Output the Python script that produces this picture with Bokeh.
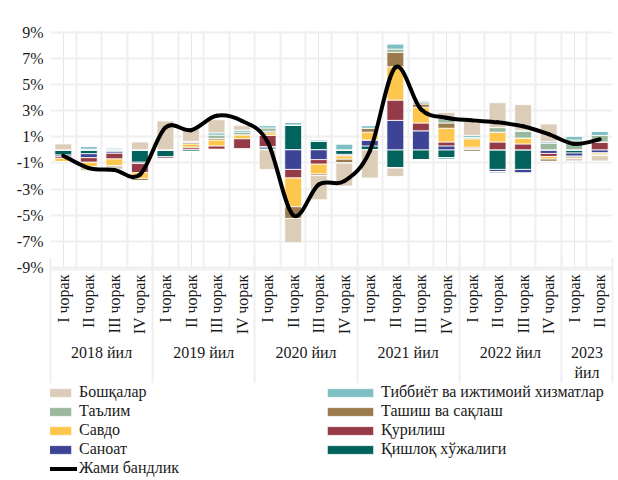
import math
import numpy as np
from bokeh.plotting import figure
from bokeh.layouts import column
from bokeh.models import (FixedTicker, LinearAxis, Legend, LegendItem, Range1d, Grid)
from bokeh.embed import file_html
from bokeh.resources import INLINE

# ---- data -------------------------------------------------------------
years = ["2018 йил", "2019 йил", "2020 йил", "2021 йил", "2022 йил", "2023\nйил"]
quarters_per_year = [4, 4, 4, 4, 4, 2]
quarter_names = ["I чорак", "II чорак", "III чорак", "IV чорак"]

y_ticks = [-9, -7, -5, -3, -1, 1, 3, 5, 7, 9]

# contributions, percentage points (bottom-up stacking order)
agri =      [-0.40, -0.30, -0.15, -0.95, -0.55, -0.15, 0.00, 0.00, 0.15, 1.90, 0.65, -0.35, 0.30, -1.40, -0.75, -0.60, 0.00, -1.50, -1.50, 0.00, -0.25, 0.00]
industry =  [-0.10, -0.30, -0.12, -0.10, 0.00, 0.05, 0.05, 0.10, 0.10, -1.50, -0.75, -0.12, 0.45, 2.25, 1.45, 0.30, 0.10, -0.20, -0.30, -0.28, -0.25, -0.25]
constr =    [-0.15, -0.35, -0.43, -0.70, -0.15, 0.15, 0.25, 0.75, 0.85, -0.65, -0.35, 0.00, 0.00, 1.55, 0.60, 0.30, 0.10, 0.60, 0.45, -0.23, 0.00, 0.60]
trade =     [-0.25, -0.35, -0.50, -0.45, 0.00, 0.25, 0.45, 0.30, 0.20, -2.20, -0.75, -0.25, 0.60, 2.55, 1.20, 1.05, 0.65, 0.75, 0.45, -0.20, 0.00, -0.10]
transport = [0.00, 0.00, 0.00, -0.15, 0.00, 0.10, 0.12, 0.00, 0.12, -0.90, -0.12, -0.30, 0.30, 1.10, 0.25, 0.40, -0.15, 0.00, 0.00, -0.18, -0.15, -0.10]
education = [0.00, 0.05, 0.05, 0.00, 0.00, 0.10, 0.25, 0.20, 0.25, 0.00, 0.00, 0.00, 0.00, 0.25, 0.15, 0.35, 0.10, 0.35, 0.50, 0.50, 0.75, 0.50]
health =    [0.00, 0.20, 0.10, 0.00, 0.00, 0.00, 0.18, 0.15, 0.18, 0.20, 0.12, 0.45, 0.20, 0.40, 0.10, -0.15, 0.15, -0.12, 0.10, 0.12, 0.30, 0.30]
others =    [0.45, -0.30, -0.30, 0.60, 2.20, 0.90, 1.00, 0.35, -1.50, -1.85, -1.85, -1.75, -2.15, -0.65, 0.00, 0.45, 1.10, 1.90, 1.95, 1.35, -0.20, -0.40]

total =     [-0.45, -1.40, -1.55, -1.90, 1.70, 1.50, 2.60, 2.20, 0.60, -5.00, -2.65, -2.40, -0.10, 6.30, 3.10, 2.45, 2.25, 2.10, 1.80, 1.20, 0.45, 0.80]

series_names = ["Қишлоқ хўжалиги", "Саноат", "Қурилиш", "Савдо", "Ташиш ва сақлаш",
                "Таълим", "Тиббиёт ва ижтимоий хизматлар", "Бошқалар"]
series_values = [agri, industry, constr, trade, transport, education, health, others]
series_colors = ["#02635C", "#3D4495", "#953B48", "#FDC74D", "#9B7B4B",
                 "#9AB89E", "#7FBFC4", "#DCCDB9"]
total_name = "Жами бандлик"

# legend layout: left column then right column (column-major)
legend_order = ["Бошқалар", "Таълим", "Савдо", "Саноат", total_name,
                "Тиббиёт ва ижтимоий хизматлар", "Ташиш ва сақлаш", "Қурилиш", "Қишлоқ хўжалиги"]

# ---- styling ----------------------------------------------------------
FONT = "Liberation Serif"
TXT = "#1a1a1a"
GRID = "#efefef"

n = len(total)
x = np.arange(n, dtype=float)


def draw_series(fig):
    """Stacked bars (positive/negative parts stacked separately) + smoothed total line."""
    rs = {}
    pos_base = np.zeros(n)
    neg_base = np.zeros(n)
    for name, vals, color in zip(series_names, series_values, series_colors):
        v = np.array(vals, dtype=float)
        pv = np.clip(v, 0, None)
        nv = np.clip(v, None, 0)
        r = fig.vbar(x=x, bottom=pos_base.copy(), top=pos_base + pv, width=0.66,
                     fill_color=color, line_color="white", line_width=0.8)
        fig.vbar(x=x, top=neg_base.copy(), bottom=neg_base + nv, width=0.66,
                 fill_color=color, line_color="white", line_width=0.8)
        rs[name] = r
        pos_base = pos_base + pv
        neg_base = neg_base + nv
    # Catmull-Rom -> cubic Bezier control points (Excel-like smoothed line)
    t = np.array(total, dtype=float)
    xp = np.concatenate([[x[0]], x, [x[-1]]])
    tp = np.concatenate([[t[0]], t, [t[-1]]])
    x0s, y0s, x1s, y1s = x[:-1], t[:-1], x[1:], t[1:]
    cx0 = x0s + (xp[2:-1] - xp[0:-3]) / 6.0
    cy0 = y0s + (tp[2:-1] - tp[0:-3]) / 6.0
    cx1 = x1s - (xp[3:] - xp[1:-2]) / 6.0
    cy1 = y1s - (tp[3:] - tp[1:-2]) / 6.0
    rs[total_name] = fig.bezier(x0=x0s, y0=y0s, x1=x1s, y1=y1s, cx0=cx0, cy0=cy0,
                                cx1=cx1, cy1=cy1, line_color="black", line_width=4,
                                line_cap="round")
    return rs


# ---- main chart -------------------------------------------------------
p = figure(width=618, height=383, x_range=Range1d(-0.5, n - 0.5), y_range=Range1d(-9.15, 9.12),
           output_backend="svg", toolbar_location=None, x_axis_location=None,
           min_border_left=50, min_border_right=6, min_border_top=30, min_border_bottom=0)
p.outline_line_color = None

p.ygrid.ticker = FixedTicker(ticks=y_ticks)
p.ygrid.grid_line_color = GRID
p.ygrid.grid_line_width = 2
p.add_layout(Grid(dimension=0, ticker=FixedTicker(ticks=list(np.arange(n + 1) - 0.5)),
                  grid_line_color=GRID, grid_line_width=2))

p.yaxis.ticker = FixedTicker(ticks=y_ticks)
p.yaxis.major_label_overrides = {t: f"{t}%" for t in y_ticks}
p.yaxis.axis_line_color = None
p.yaxis.major_tick_line_color = None
p.yaxis.minor_tick_line_color = None
p.yaxis.major_label_text_font = FONT
p.yaxis.major_label_text_font_size = "16px"
p.yaxis.major_label_text_color = TXT
p.yaxis.major_label_standoff = 1

draw_series(p)

q_labels = []
year_bounds = [-0.5]
year_centers = []
pos = 0
for cnt in quarters_per_year:
    q_labels += quarter_names[:cnt]
    year_centers.append(pos + (cnt - 1) / 2.0)
    pos += cnt
    year_bounds.append(pos - 0.5)

qaxis = LinearAxis(ticker=FixedTicker(ticks=list(range(n)), minor_ticks=[]),
                   major_label_overrides={i: lab for i, lab in enumerate(q_labels)},
                   major_label_orientation=math.pi / 2,
                   major_tick_in=0, major_tick_out=0,
                   minor_tick_line_color=None,
                   axis_line_color=GRID, axis_line_width=2,
                   major_label_standoff=5,
                   major_label_text_font=FONT, major_label_text_font_size="16px",
                   major_label_text_color=TXT)
p.add_layout(qaxis, "below")

yraxis = LinearAxis(ticker=FixedTicker(ticks=year_centers, minor_ticks=[]),
                    major_label_overrides={c: lab for c, lab in zip(year_centers, years)},
                    major_tick_in=0, major_tick_out=0, axis_line_color=None,
                    minor_tick_line_color=None,
                    major_label_standoff=6,
                    major_label_text_font=FONT, major_label_text_font_size="16px",
                    major_label_text_color=TXT)
p.add_layout(yraxis, "below")

sep_axis = LinearAxis(ticker=FixedTicker(ticks=[], minor_ticks=year_bounds),
                      major_tick_in=0, major_tick_out=0, major_label_text_font_size="0px",
                      major_label_standoff=0, axis_line_color=None,
                      minor_tick_in=125, minor_tick_out=0,
                      minor_tick_line_color=GRID, minor_tick_line_width=2)
p.add_layout(sep_axis, "below")

# ---- legend strip (same series drawn off-range; only the legend is visible) ----
lg = figure(width=618, height=97, x_range=Range1d(-0.5, n - 0.5), y_range=Range1d(50, 51),
            output_backend="svg", toolbar_location=None,
            x_axis_location=None, y_axis_location=None,
            min_border_left=50, min_border_right=6, min_border_top=0, min_border_bottom=0)
lg.outline_line_color = None
lg.xgrid.visible = False
lg.ygrid.visible = False
lg.background_fill_alpha = 0
lg.border_fill_alpha = 0
lrs = draw_series(lg)

items = [LegendItem(label=nm, renderers=[lrs[nm]]) for nm in legend_order]
legend = Legend(items=items, orientation="vertical", ncols=2,
                location=(-31, 3), margin=0, padding=0, spacing=1,
                glyph_width=58, glyph_height=11, label_height=18, label_width=241,
                label_standoff=2, border_line_color=None, background_fill_alpha=0,
                label_text_font=FONT, label_text_font_size="16px",
                label_text_line_height=1.0, label_text_color=TXT)
lg.add_layout(legend)

layout = column(p, lg, spacing=0)
open("out.html", "w").write(file_html(layout, INLINE))
